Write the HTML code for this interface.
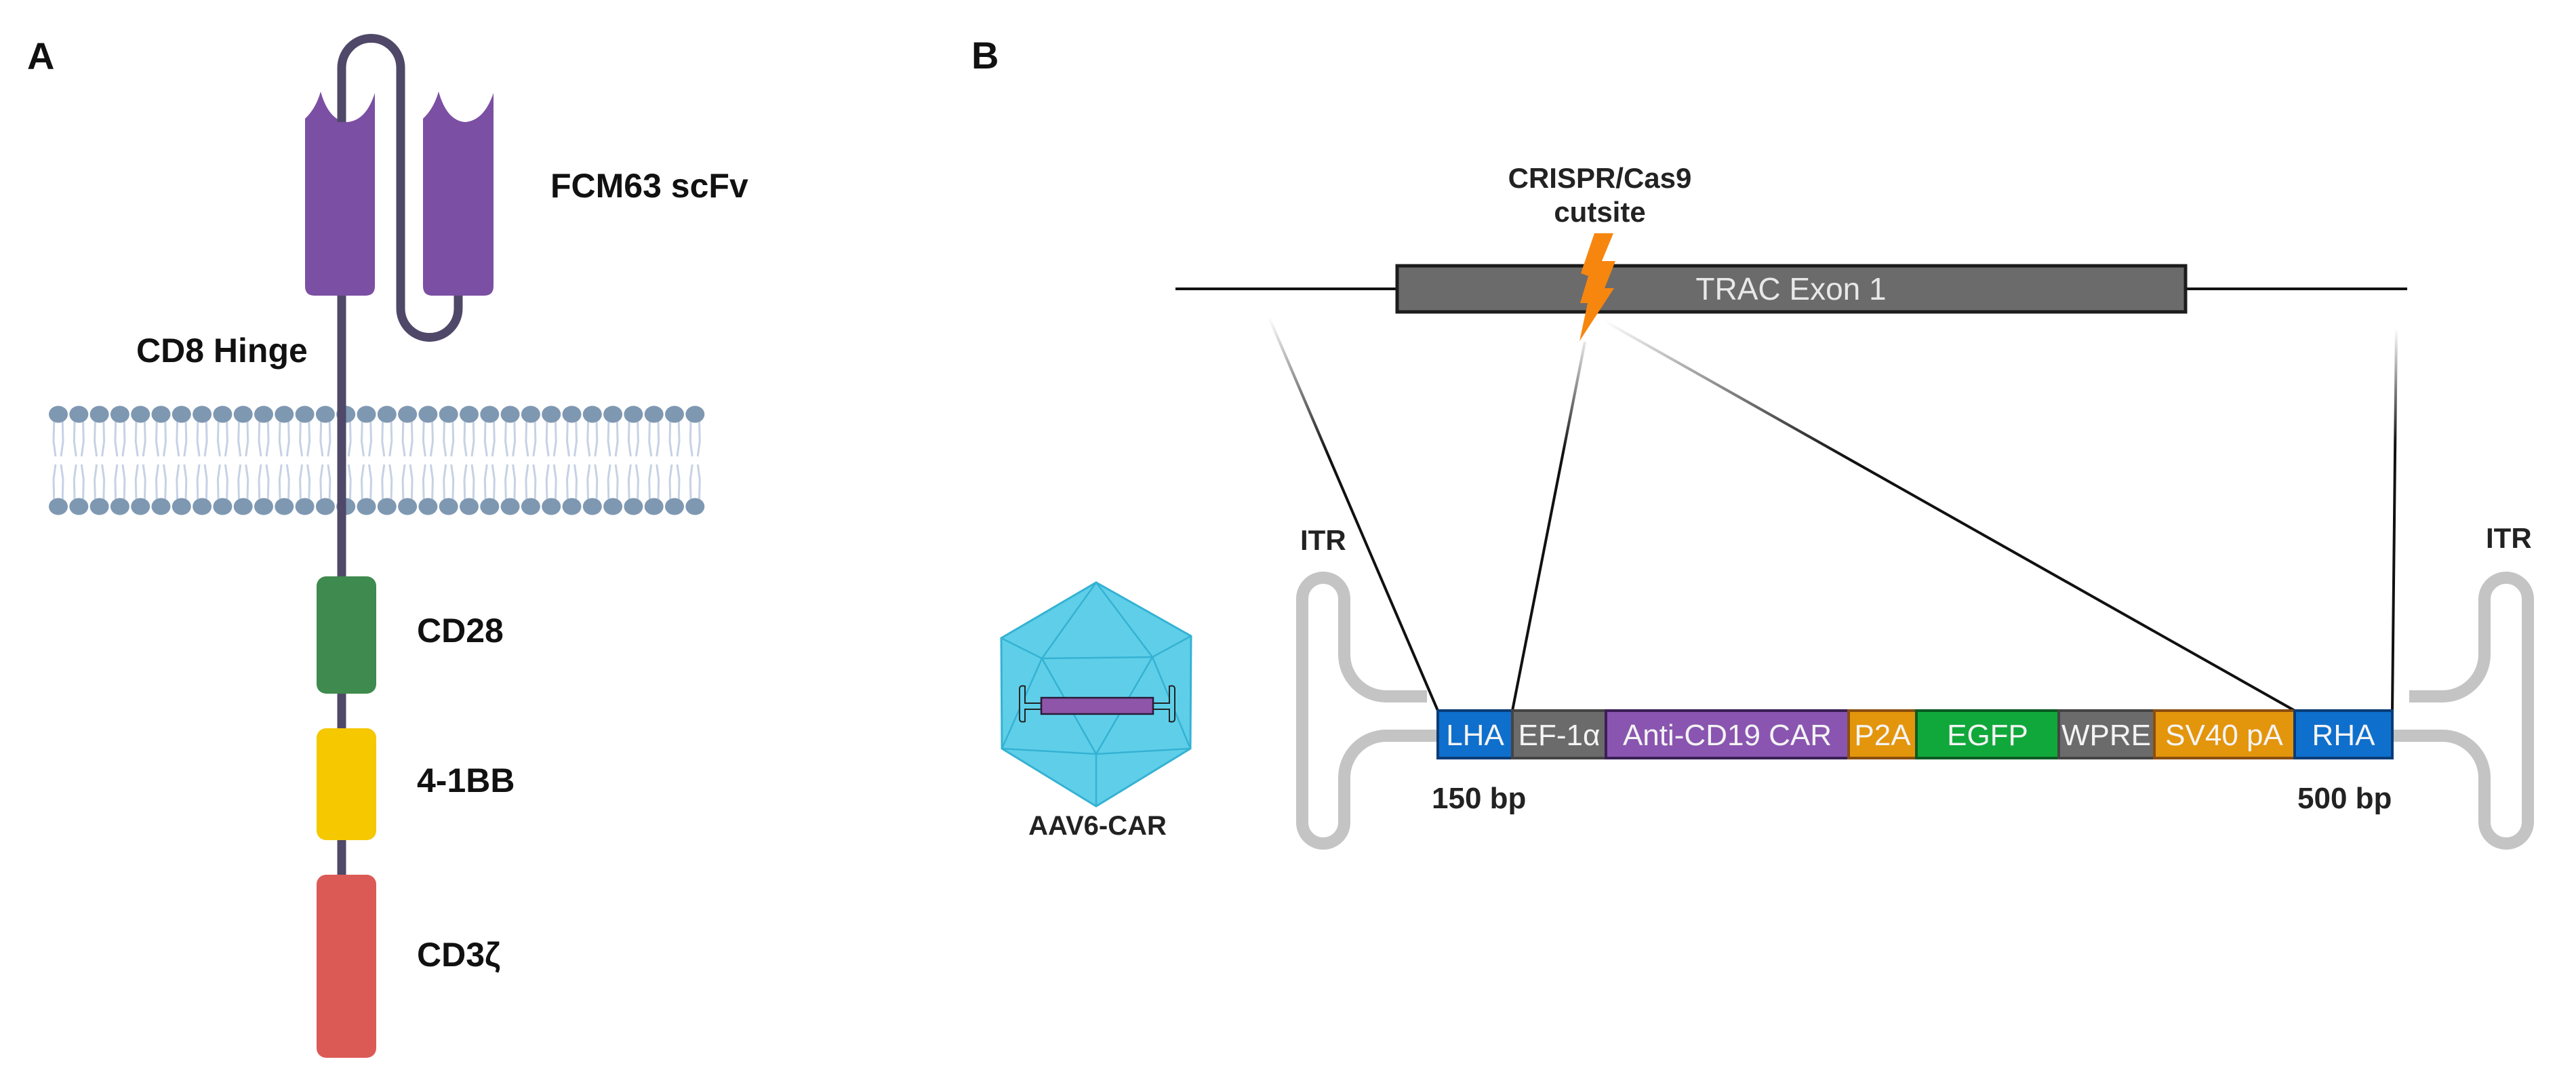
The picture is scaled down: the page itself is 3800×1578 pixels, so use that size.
<!DOCTYPE html>
<html><head><meta charset="utf-8"><style>
html,body{margin:0;padding:0;background:#fff;}
svg{display:block;}
text{font-family:"Liberation Sans",sans-serif;}
</style></head><body>
<svg width="3800" height="1578" viewBox="0 0 3800 1578" xmlns="http://www.w3.org/2000/svg">
<defs>
<linearGradient id="g1" gradientUnits="userSpaceOnUse" x1="1872" y1="468" x2="2121" y2="1048"><stop offset="0" stop-color="#111" stop-opacity="0"/><stop offset="0.35" stop-color="#111"/></linearGradient>
<linearGradient id="g2" gradientUnits="userSpaceOnUse" x1="2338" y1="504" x2="2231" y2="1048"><stop offset="0" stop-color="#111" stop-opacity="0.1"/><stop offset="0.3" stop-color="#111"/></linearGradient>
<linearGradient id="g3" gradientUnits="userSpaceOnUse" x1="2366" y1="473" x2="3385" y2="1048"><stop offset="0" stop-color="#111" stop-opacity="0"/><stop offset="0.35" stop-color="#111"/></linearGradient>
<linearGradient id="g4" gradientUnits="userSpaceOnUse" x1="3535" y1="484" x2="3529" y2="1048"><stop offset="0" stop-color="#111" stop-opacity="0"/><stop offset="0.3" stop-color="#111"/></linearGradient>
<g id="head"><ellipse cx="0" cy="0" rx="14" ry="12.5" fill="#7f98b2"/></g>
<g id="lip">
<path d="M-6 0 L-7 40 L-4 62 M6 0 L7 40 L4 62" stroke="#c6d2e4" stroke-width="3" fill="none"/>
<path d="M-4 74 L-7 96 L-6 136 M4 74 L7 96 L6 136" stroke="#c6d2e4" stroke-width="3" fill="none"/>
</g>
</defs>

<!-- Panel A -->
<text x="40" y="102" font-size="56" font-weight="bold" fill="#111">A</text>

<!-- membrane -->
<g transform="translate(0,611)">
<use href="#lip" x="86"/><use href="#lip" x="116.3"/><use href="#lip" x="146.6"/><use href="#lip" x="176.9"/><use href="#lip" x="207.2"/><use href="#lip" x="237.5"/><use href="#lip" x="267.8"/><use href="#lip" x="298.1"/><use href="#lip" x="328.4"/><use href="#lip" x="358.7"/><use href="#lip" x="389"/><use href="#lip" x="419.3"/><use href="#lip" x="449.6"/><use href="#lip" x="479.9"/><use href="#lip" x="510.2"/><use href="#lip" x="540.5"/><use href="#lip" x="570.8"/><use href="#lip" x="601.1"/><use href="#lip" x="631.4"/><use href="#lip" x="661.7"/><use href="#lip" x="692"/><use href="#lip" x="722.3"/><use href="#lip" x="752.6"/><use href="#lip" x="782.9"/><use href="#lip" x="813.2"/><use href="#lip" x="843.5"/><use href="#lip" x="873.8"/><use href="#lip" x="904.1"/><use href="#lip" x="934.4"/><use href="#lip" x="964.7"/><use href="#lip" x="995"/><use href="#lip" x="1025.3"/>
</g>
<g id="toprow" transform="translate(0,611)">
<use href="#head" x="86"/><use href="#head" x="116.3"/><use href="#head" x="146.6"/><use href="#head" x="176.9"/><use href="#head" x="207.2"/><use href="#head" x="237.5"/><use href="#head" x="267.8"/><use href="#head" x="298.1"/><use href="#head" x="328.4"/><use href="#head" x="358.7"/><use href="#head" x="389"/><use href="#head" x="419.3"/><use href="#head" x="449.6"/><use href="#head" x="479.9"/><use href="#head" x="510.2"/><use href="#head" x="540.5"/><use href="#head" x="570.8"/><use href="#head" x="601.1"/><use href="#head" x="631.4"/><use href="#head" x="661.7"/><use href="#head" x="692"/><use href="#head" x="722.3"/><use href="#head" x="752.6"/><use href="#head" x="782.9"/><use href="#head" x="813.2"/><use href="#head" x="843.5"/><use href="#head" x="873.8"/><use href="#head" x="904.1"/><use href="#head" x="934.4"/><use href="#head" x="964.7"/><use href="#head" x="995"/><use href="#head" x="1025.3"/>
</g>
<use href="#toprow" y="136"/>

<!-- stem and loop -->
<path d="M504 1290 V100 A43.5 43.5 0 0 1 591 100 V455 A42.5 42.5 0 0 0 676 455 V430" stroke="#4f4868" stroke-width="13" fill="none"/>
<!-- cylinders -->
<path d="M450 175 Q466 160 473 135 Q485 178 512 180 Q540 178 553 137 V422 Q553 436 539 436 H464 Q450 436 450 422 Z" fill="#7b4fa3"/>
<path d="M624 175 Q640 160 647 135 Q659 178 686 180 Q714 178 728 137 V422 Q728 436 714 436 H638 Q624 436 624 422 Z" fill="#7b4fa3"/>
<!-- stem visible through left notch -->
<path d="M504 100 V180" stroke="#4f4868" stroke-width="13"/>

<rect x="467" y="850" width="88" height="173" rx="14" fill="#3f8a4e"/>
<rect x="467" y="1074" width="88" height="165" rx="14" fill="#f5c800"/>
<rect x="467" y="1290" width="88" height="270" rx="14" fill="#dc5a56"/>

<g font-size="50" font-weight="bold" fill="#111">
<text x="812" y="291">FCM63 scFv</text>
<text x="201" y="534">CD8 Hinge</text>
<text x="615" y="947">CD28</text>
<text x="615" y="1168">4-1BB</text>
<text x="615" y="1425">CD3ζ</text>
</g>

<!-- Panel B -->
<text x="1433" y="101" font-size="56" font-weight="bold" fill="#111">B</text>

<text x="2360" y="277" font-size="42" font-weight="bold" fill="#222" text-anchor="middle">CRISPR/Cas9</text>
<text x="2360" y="327" font-size="42" font-weight="bold" fill="#222" text-anchor="middle">cutsite</text>

<line x1="1734" y1="426" x2="3551" y2="426" stroke="#111" stroke-width="4"/>
<rect x="2061" y="392" width="1163" height="68" fill="#6b6b6b" stroke="#1c1c1c" stroke-width="5"/>
<text x="2642" y="442" font-size="46" fill="#e8e8e8" text-anchor="middle">TRAC Exon 1</text>

<!-- connector lines -->
<line x1="1872" y1="468" x2="2121" y2="1048" stroke="url(#g1)" stroke-width="4"/>
<line x1="2338" y1="504" x2="2231" y2="1048" stroke="url(#g2)" stroke-width="4"/>
<line x1="2366" y1="473" x2="3385" y2="1048" stroke="url(#g3)" stroke-width="4"/>
<line x1="3535" y1="484" x2="3529" y2="1048" stroke="url(#g4)" stroke-width="4"/>

<!-- lightning -->
<polygon points="2352,344 2380,344 2363,385 2383,385 2367,425 2381,425 2330,503 2342,447 2331,447 2343,407 2332,403" fill="#f7860f"/>

<!-- ITRs -->
<path d="M2105 1027 H2045 A62 62 0 0 1 1983 965 V883 A31 31 0 0 0 1921 883 V1213 A31 31 0 0 0 1983 1213 V1147 A62 62 0 0 1 2045 1085 H2121" stroke="#c4c4c4" stroke-width="18" fill="none"/>
<path d="M3554 1027 H3603 A62 62 0 0 0 3665 965 V884 A32 32 0 0 1 3729 884 V1212 A32 32 0 0 1 3665 1212 V1147 A62 62 0 0 0 3603 1085 H3529" stroke="#c4c4c4" stroke-width="18" fill="none"/>

<!-- cassette -->
<g stroke-width="4">
<rect x="2121" y="1048" width="110" height="70" fill="#0f6fcc" stroke="#0a3d78"/>
<rect x="2231" y="1048" width="138" height="70" fill="#6b6b6b" stroke="#444"/>
<rect x="2369" y="1048" width="358" height="70" fill="#8a55b0" stroke="#3a1f55"/>
<rect x="2727" y="1048" width="100" height="70" fill="#e3950c" stroke="#8a4e10"/>
<rect x="2827" y="1048" width="210" height="70" fill="#10a83a" stroke="#0b5a22"/>
<rect x="3037" y="1048" width="141" height="70" fill="#6b6b6b" stroke="#444"/>
<rect x="3178" y="1048" width="207" height="70" fill="#e3950c" stroke="#8a4e10"/>
<rect x="3385" y="1048" width="144" height="70" fill="#0f6fcc" stroke="#0a3d78"/>
</g>
<g font-size="44" fill="#f4f4f4" text-anchor="middle">
<text x="2176" y="1099">LHA</text>
<text x="2300" y="1099">EF-1α</text>
<text x="2548" y="1099">Anti-CD19 CAR</text>
<text x="2777" y="1099">P2A</text>
<text x="2932" y="1099">EGFP</text>
<text x="3107" y="1099">WPRE</text>
<text x="3281" y="1099">SV40 pA</text>
<text x="3457" y="1099">RHA</text>
</g>

<g font-size="44" font-weight="bold" fill="#222">
<text x="2112" y="1192">150 bp</text>
<text x="3389" y="1192">500 bp</text>
<text x="1918" y="811" font-size="42">ITR</text>
<text x="3667" y="808" font-size="42">ITR</text>
</g>

<!-- AAV -->
<polygon points="1617,859 1757,938 1756,1104 1617,1189 1478,1104 1477,941" fill="#5fcfe9" stroke="#35b2d3" stroke-width="3"/>
<g stroke="#35b2d3" stroke-width="2.5" fill="none">
<path d="M1617 859 L1537 971 L1700 969 Z"/>
<path d="M1477 941 L1537 971 M1757 938 L1700 969"/>
<path d="M1537 971 L1617 1112 L1700 969"/>
<path d="M1537 971 L1478 1104 M1700 969 L1756 1104"/>
<path d="M1478 1104 L1617 1112 L1756 1104 M1617 1112 L1617 1189"/>
</g>
<g stroke="#222" stroke-width="2" fill="#5fcfe9">
<path d="M1536 1037 H1512 V1012 Q1504 1010 1504 1016 V1060 Q1504 1066 1512 1064 V1046 H1536 Z"/>
<path d="M1701 1037 H1725 V1012 Q1733 1010 1733 1016 V1060 Q1733 1066 1725 1064 V1046 H1701 Z"/>
</g>
<rect x="1536" y="1029" width="165" height="24" fill="#8e55a8" stroke="#2a1a3a" stroke-width="2.5"/>
<text x="1619" y="1231" font-size="40" font-weight="bold" fill="#222" text-anchor="middle">AAV6-CAR</text>
</svg>
</body></html>
